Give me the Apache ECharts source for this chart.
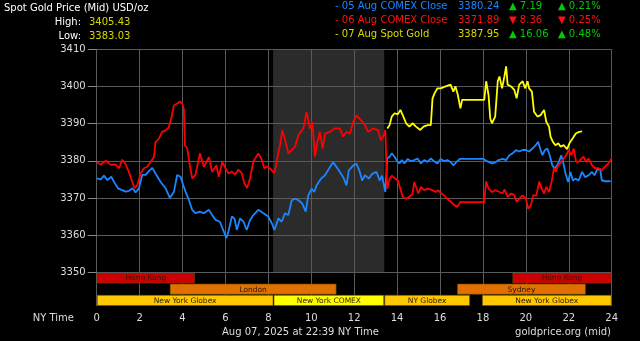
<!DOCTYPE html>
<html><head><meta charset="utf-8">
<script src="https://cdn.jsdelivr.net/npm/echarts@6/dist/echarts.min.js"></script>
<style>html,body{margin:0;padding:0;background:#000}#c{width:640px;height:341px}</style>
</head><body><div id="c"></div>
<script>
// ---------- DATA ----------
const hourTicks = [0,2,4,6,8,10,12,14,16,18,20,22,24];
const priceTicks = [3350,3360,3370,3380,3390,3400,3410];

// 06 Aug COMEX Close (red) [NY hour, price]
const redSeries = [[0,3379.6],[0.19,3379],[0.42,3380],[0.65,3378.9],[0.88,3379],[1.04,3378],[1.19,3380.3],[1.35,3379],[1.5,3377],[1.66,3374.3],[1.77,3372.6],[1.89,3373.5],[2.05,3376.6],[2.2,3378],[2.36,3378.4],[2.51,3379.7],[2.67,3381],[2.74,3385],[2.9,3386],[3.05,3387.8],[3.21,3388.2],[3.36,3389],[3.47,3391.3],[3.6,3394.9],[3.75,3395.4],[3.88,3396],[3.98,3395.4],[4.06,3394],[4.11,3384.2],[4.22,3383.3],[4.34,3378.8],[4.45,3375.3],[4.6,3376.2],[4.81,3382],[4.99,3378.4],[5.23,3381],[5.38,3377],[5.58,3378.8],[5.69,3375.7],[5.85,3379.7],[6.0,3378],[6.15,3376.6],[6.3,3377.1],[6.45,3376.3],[6.6,3377.6],[6.76,3376.7],[6.88,3374],[7.01,3372.7],[7.15,3375.4],[7.3,3379.8],[7.53,3382],[7.69,3380.3],[7.81,3378],[7.97,3378.5],[8.12,3377.6],[8.28,3376.7],[8.39,3379.8],[8.54,3384.2],[8.65,3388.2],[8.81,3385],[8.93,3382],[9.09,3382.9],[9.24,3383.8],[9.4,3386.9],[9.63,3388.7],[9.78,3393.1],[9.94,3388.7],[10.05,3390.4],[10.17,3381.1],[10.3,3385.5],[10.4,3387.8],[10.53,3383.3],[10.64,3387.3],[10.87,3387.8],[11.1,3388.7],[11.33,3388.7],[11.49,3386.5],[11.64,3387.8],[11.8,3387.3],[11.95,3390.4],[12.11,3392.2],[12.26,3391.3],[12.5,3389.6],[12.65,3387.8],[12.88,3388.7],[13.12,3388.2],[13.24,3385.5],[13.38,3386.9],[13.45,3388.3],[13.54,3372.5],[13.65,3375.2],[13.75,3376],[13.91,3375.2],[14.03,3374.8],[14.15,3372.5],[14.26,3370.3],[14.42,3369.8],[14.57,3370.3],[14.72,3371.2],[14.8,3374.3],[14.88,3373.9],[14.99,3371.2],[15.11,3373],[15.26,3372.1],[15.42,3372.5],[15.65,3372.1],[15.8,3371.6],[15.91,3372.1],[16.03,3371.4],[16.19,3370.7],[16.34,3369.8],[16.52,3368.9],[16.68,3368],[16.8,3367.6],[16.95,3368.9],[17.26,3368.9],[17.72,3368.9],[18.06,3368.9],[18.15,3374.5],[18.26,3372.5],[18.42,3371.6],[18.57,3372.1],[18.77,3371.6],[18.92,3371.2],[19.0,3372.3],[19.15,3370.3],[19.31,3371.2],[19.46,3370.7],[19.57,3368.9],[19.69,3369.8],[19.85,3370.7],[20.0,3369.8],[20.11,3367.1],[20.23,3368],[20.34,3370.7],[20.49,3370.7],[20.62,3374.4],[20.74,3372.5],[20.85,3371.2],[20.95,3373],[21.08,3371.6],[21.2,3374.4],[21.31,3378],[21.39,3377],[21.51,3378.8],[21.66,3379.7],[21.77,3380.6],[21.88,3381.5],[22.0,3382.9],[22.12,3381.5],[22.23,3383.3],[22.34,3379.7],[22.46,3379.7],[22.59,3380.6],[22.69,3381.1],[22.8,3379.7],[22.92,3380.6],[23.08,3378.8],[23.23,3378],[23.38,3378],[23.54,3377.5],[23.69,3378.4],[23.85,3379.3],[24,3380.6]];

// 05 Aug COMEX Close (blue)
const blueSeries = [[0,3375.3],[0.19,3375],[0.34,3376],[0.5,3374.8],[0.68,3375.7],[0.84,3374],[0.99,3372.6],[1.19,3372.1],[1.35,3371.7],[1.5,3371.9],[1.66,3372.6],[1.81,3371.5],[1.97,3372.6],[2.12,3376.2],[2.28,3376.2],[2.43,3377.2],[2.59,3378.1],[2.74,3376.6],[2.98,3374.3],[3.21,3372.6],[3.41,3370],[3.6,3371.7],[3.75,3376.2],[3.91,3375.7],[4.03,3373.5],[4.14,3371.7],[4.3,3369.4],[4.45,3366.8],[4.6,3365.9],[4.81,3366.3],[4.99,3365.9],[5.23,3366.8],[5.38,3365.4],[5.54,3364.1],[5.74,3363.6],[5.92,3361],[6.05,3359.2],[6.14,3361],[6.3,3365],[6.42,3364.5],[6.53,3361.4],[6.68,3364.5],[6.84,3363.6],[6.99,3361.4],[7.15,3364.1],[7.3,3365.4],[7.53,3366.8],[7.77,3365.9],[8.0,3365],[8.16,3363.2],[8.28,3361.4],[8.47,3364.5],[8.62,3363.6],[8.78,3365.9],[8.93,3365.4],[9.09,3369.4],[9.24,3369.8],[9.4,3369.4],[9.58,3368.5],[9.74,3366.3],[9.86,3370.7],[10.02,3372.5],[10.14,3371.6],[10.25,3373.4],[10.45,3375.2],[10.64,3376.1],[10.87,3378.3],[11.02,3379.6],[11.18,3378.3],[11.33,3377],[11.49,3375.6],[11.64,3373.4],[11.75,3377.4],[11.95,3378.7],[12.11,3379.2],[12.26,3377],[12.37,3374.7],[12.5,3376.1],[12.68,3375.2],[12.84,3376.5],[13.04,3377],[13.19,3374.7],[13.3,3376],[13.45,3371.6],[13.54,3380.6],[13.65,3381.1],[13.75,3382],[13.88,3381.1],[14.0,3379.9],[14.11,3379.3],[14.22,3380.2],[14.34,3379.3],[14.49,3380.5],[14.65,3379.9],[14.8,3380.2],[14.95,3380.6],[15.11,3379.3],[15.26,3380.2],[15.42,3379.7],[15.57,3380.6],[15.72,3379.9],[15.88,3379.3],[16.03,3380.5],[16.19,3379.9],[16.34,3380.2],[16.49,3379.7],[16.62,3378.8],[16.77,3379.7],[16.92,3380.5],[17.3,3380.5],[17.8,3380.5],[18.03,3380.5],[18.18,3379.9],[18.42,3379.3],[18.57,3379.5],[18.72,3380.2],[18.92,3380.5],[19.08,3380.2],[19.23,3381.5],[19.38,3382],[19.54,3382.9],[19.69,3382.5],[19.85,3382.9],[20.0,3382.9],[20.15,3382.5],[20.31,3383.3],[20.46,3384.2],[20.57,3385.1],[20.69,3382.9],[20.77,3381.5],[20.89,3382.9],[21.0,3383.3],[21.11,3381.5],[21.23,3378.8],[21.35,3377.9],[21.46,3378.8],[21.54,3379.7],[21.65,3381.5],[21.77,3378.8],[21.85,3376.5],[21.97,3374.3],[22.08,3377],[22.19,3374.7],[22.31,3375.2],[22.46,3374.7],[22.62,3377],[22.77,3375.6],[22.92,3376.1],[23.08,3377],[23.2,3376.1],[23.31,3377.5],[23.46,3377.9],[23.54,3374.7],[23.69,3374.5],[23.95,3374.5]];

// 07 Aug Spot Gold (yellow)
const yellowSeries = [[13.54,3388.7],[13.65,3389.6],[13.75,3391.9],[13.88,3392.8],[14.03,3392.5],[14.15,3393.7],[14.26,3392.3],[14.42,3390.1],[14.57,3389.2],[14.72,3390.1],[14.88,3389.2],[15.08,3388.3],[15.23,3389.2],[15.42,3389.6],[15.57,3389.6],[15.65,3396.8],[15.75,3398.2],[15.88,3399.5],[16.03,3399.5],[16.26,3400],[16.49,3400.5],[16.62,3398.6],[16.72,3400],[16.83,3397.7],[16.95,3394.1],[17.03,3396.4],[17.26,3396.4],[17.72,3396.4],[18.06,3396.4],[18.15,3401.4],[18.26,3397.7],[18.34,3391.4],[18.42,3390.1],[18.57,3391.9],[18.62,3391.9],[18.69,3401.4],[18.77,3402.7],[18.89,3399.5],[19.0,3402.7],[19.08,3405.4],[19.15,3400.5],[19.31,3400],[19.46,3399.1],[19.57,3396.8],[19.69,3400.5],[19.85,3401.4],[19.97,3399.5],[20.08,3401.4],[20.15,3399.5],[20.28,3398.6],[20.38,3393.2],[20.54,3391.9],[20.69,3392.3],[20.85,3393.7],[20.95,3390.5],[21.08,3389.2],[21.15,3386.5],[21.26,3385.1],[21.38,3384.2],[21.51,3384.7],[21.62,3383.8],[21.77,3384.2],[21.92,3383.1],[22.03,3384.7],[22.12,3384.2],[22.23,3386.5],[22.34,3387.4],[22.46,3387.7],[22.62,3387.95]];

// COMEX trading window shading (hours)
const comexWindow = [[8.22, 13.4]];

// Trading sessions
const sessionNames = ['Hong Kong','London','New York Globex','New York COMEX','NY Globex','Sydney','New York Globex','Hong Kong'];
const sessionRows  = [0,1,2,2,2,1,2,0];
const sessionStart = [0,3.4,0,8.24,13.4,16.79,17.95,19.37];
const sessionEnd   = [4.58,11.18,8.24,13.4,17.4,22.8,24,24];

// Header texts
const titleText = 'Spot Gold Price (Mid) USD/oz';
const highLowLabels = ['High:','Low:'];
const highLowValues = ['3405.43','3383.03'];
const legendLabels = ['- 05 Aug COMEX Close','- 06 Aug COMEX Close','- 07 Aug Spot Gold'];
const legendPrices = ['3380.24','3371.89','3387.95'];
const legendChanges = ['7.19','8.36','16.06'];
const legendPcts = ['0.21%','0.25%','0.48%'];
const legendUp = [true,false,true];
const footerDate = 'Aug 07, 2025 at 22:39 NY Time';
const footerSource = 'goldprice.org (mid)';
const axisTitle = 'NY Time';

// ---------- STYLES ----------
const seriesColors = ['#1a86ff','#ff0000','#ffff00'];
const legendTextColors = ['#1a86ff','#ff1010','#d8d800'];
const sessionFill = {'Hong Kong':'#cc0000','London':'#e07000','Sydney':'#e07000','New York Globex':'#ffc800','NY Globex':'#ffc800','New York COMEX':'#ffff00'};
const FONT = '"DejaVu Sans", Verdana, sans-serif';
const gridColor = '#5a5a5a';

const L = 96.7, R = 28.3;
const chart = echarts.init(document.getElementById('c'), null, {renderer:'canvas'});

const graphics = [];
function txt(x,y,text,fill,align,size){
  graphics.push({type:'text', x:x, y:y, z:100, style:{text:text, fill:fill, font:(size||10)+'px '+FONT, textAlign:align||'left', textVerticalAlign:'middle'}});
}
txt(4,8,titleText,'#ffffff');
txt(81,22,highLowLabels[0],'#ffffff','right');
txt(89,22,highLowValues[0],'#d8d800');
txt(81,36,highLowLabels[1],'#ffffff','right');
txt(89,36,highLowValues[1],'#d8d800');
for (let i=0;i<3;i++){
  const y = 6 + i*14;
  txt(335,y,legendLabels[i],legendTextColors[i]);
  txt(458,y,legendPrices[i],legendTextColors[i]);
  const c = legendUp[i] ? '#00cc00' : '#ff1010';
  const a = legendUp[i] ? '\u25B2 ' : '\u25BC ';
  txt(509,y,a+legendChanges[i],c);
  txt(558,y,a+legendPcts[i],c);
}
txt(74,318,axisTitle,'#dddddd','right');
txt(222,332,footerDate,'#dddddd');
txt(611,332,footerSource,'#dddddd','right');

const option = {
  backgroundColor:'#000000',
  animation:false,
  textStyle:{fontFamily:FONT},
  grid:[
    {left:L, right:R, top:49.3, height:223, outerBoundsMode:'none', containLabel:false},
    {left:L, right:R, top:272.3, height:33.7, outerBoundsMode:'none', containLabel:false}
  ],
  xAxis:[
    {type:'value', gridIndex:0, min:hourTicks[0], max:hourTicks[hourTicks.length-1], interval:2, z:3,
     axisLine:{show:false}, axisTick:{show:false}, axisLabel:{show:false},
     splitLine:{show:true, lineStyle:{color:gridColor, width:1}}},
    {type:'value', gridIndex:1, min:hourTicks[0], max:hourTicks[hourTicks.length-1], interval:2, z:0,
     axisLine:{show:false}, axisTick:{show:false},
     axisLabel:{show:true, color:'#dddddd', fontSize:10, fontFamily:FONT, margin:7, showMinLabel:true, showMaxLabel:true,
       formatter:v=>hourTicks.indexOf(v)>=0?String(v):''},
     splitLine:{show:true, lineStyle:{color:gridColor, width:1}}}
  ],
  yAxis:[
    {type:'value', gridIndex:0, min:priceTicks[0], max:priceTicks[priceTicks.length-1], interval:10, z:3,
     axisLine:{show:false}, axisTick:{show:true, length:9, lineStyle:{color:'#888888'}},
     axisLabel:{color:'#dddddd', fontSize:10, fontFamily:FONT, margin:11, showMinLabel:true, showMaxLabel:true,
       formatter:v=>priceTicks.indexOf(v)>=0?String(v):''},
     splitLine:{show:true, lineStyle:{color:gridColor, width:1}}},
    {type:'value', gridIndex:1, min:0, max:3, inverse:true, show:false, splitLine:{show:false}}
  ],
  graphic:graphics,
  series:[
    {type:'custom', xAxisIndex:0, yAxisIndex:0, z:1, silent:true, data:comexWindow,
     encode:{x:[0,1]},
     renderItem:(params, api)=>{
       const cs = params.coordSys;
       const x0 = api.coord([api.value(0), priceTicks[0]])[0];
       const x1 = api.coord([api.value(1), priceTicks[0]])[0];
       return {type:'rect', shape:{x:x0, y:cs.y, width:x1-x0, height:cs.height}, style:{fill:'#2b2b2b'}};
     }},
    {type:'custom', xAxisIndex:1, yAxisIndex:1, z:2, silent:true,
     data:sessionNames.map((n,i)=>[sessionStart[i], sessionEnd[i], sessionRows[i], i]),
     encode:{x:[0,1], y:2},
     renderItem:(params, api)=>{
       const i = api.value(3);
       const p0 = api.coord([api.value(0), api.value(2)]);
       const p1 = api.coord([api.value(1), api.value(2)+1]);
       const name = sessionNames[i];
       return {type:'group', children:[
         {type:'rect', shape:{x:p0[0]+0.5, y:p0[1]+0.5, width:p1[0]-p0[0]-1, height:p1[1]-p0[1]-1},
          style:{fill:sessionFill[name], stroke:'#6a4a00', lineWidth:0.6}},
         {type:'text', x:(p0[0]+p1[0])/2, y:(p0[1]+p1[1])/2+0.5,
          style:{text:name, fill:'#2a1a00', font:'7.5px '+FONT, textAlign:'center', textVerticalAlign:'middle'}}
       ]};
     }},
    {type:'line', name:'05 Aug COMEX Close', xAxisIndex:0, yAxisIndex:0, z:5, data:blueSeries, showSymbol:false, symbol:'none',
     lineStyle:{color:seriesColors[0], width:1.8}, itemStyle:{color:seriesColors[0]}},
    {type:'line', name:'06 Aug COMEX Close', xAxisIndex:0, yAxisIndex:0, z:6, data:redSeries, showSymbol:false, symbol:'none',
     lineStyle:{color:seriesColors[1], width:1.8}, itemStyle:{color:seriesColors[1]}},
    {type:'line', name:'07 Aug Spot Gold', xAxisIndex:0, yAxisIndex:0, z:7, data:yellowSeries, showSymbol:false, symbol:'none',
     lineStyle:{color:seriesColors[2], width:1.8}, itemStyle:{color:seriesColors[2]}}
  ]
};
chart.setOption(option);
</script>
</body></html>
